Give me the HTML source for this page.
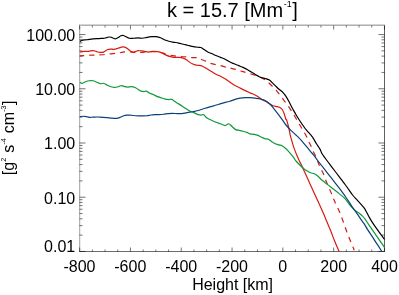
<!DOCTYPE html>
<html><head><meta charset="utf-8"><style>
html,body{margin:0;padding:0;background:#fff;}
svg{display:block}
svg{will-change:transform;}
text{font-family:"Liberation Sans",sans-serif;fill:#000;}
</style></head><body>
<svg width="399" height="295" viewBox="0 0 399 295">
<rect width="399" height="295" fill="#fff"/>
<clipPath id="c"><rect x="79.5" y="25.5" width="305.5" height="226.6"/></clipPath>
<g fill="none" stroke="#989898" stroke-width="1">
<path d="M79.0,24.5 H385.0" stroke="#d4d4d4"/>
<path d="M79.0,25.5 H385.0" stroke="#b0b0b0"/>
<path d="M80.5,25.5 V251.5" stroke="#ececec"/>
<path d="M79.5,24.5 V251.5" stroke="#b2b2b2"/>
<path d="M79.0,251.5 H385.0" stroke="#6c6c6c"/>
<path d="M384.5,25.5 V251.5" stroke="#606060"/>
<path d="M79.65,251.50 v-4.00 M79.65,25.50 v4.00 M92.35,251.50 v-2.00 M92.35,25.50 v2.00 M105.05,251.50 v-2.00 M105.05,25.50 v2.00 M117.75,251.50 v-2.00 M117.75,25.50 v2.00 M130.45,251.50 v-4.00 M130.45,25.50 v4.00 M143.15,251.50 v-2.00 M143.15,25.50 v2.00 M155.85,251.50 v-2.00 M155.85,25.50 v2.00 M168.55,251.50 v-2.00 M168.55,25.50 v2.00 M181.25,251.50 v-4.00 M181.25,25.50 v4.00 M193.95,251.50 v-2.00 M193.95,25.50 v2.00 M206.65,251.50 v-2.00 M206.65,25.50 v2.00 M219.35,251.50 v-2.00 M219.35,25.50 v2.00 M232.05,251.50 v-4.00 M232.05,25.50 v4.00 M244.75,251.50 v-2.00 M244.75,25.50 v2.00 M257.45,251.50 v-2.00 M257.45,25.50 v2.00 M270.15,251.50 v-2.00 M270.15,25.50 v2.00 M282.85,251.50 v-4.00 M282.85,25.50 v4.00 M295.55,251.50 v-2.00 M295.55,25.50 v2.00 M308.25,251.50 v-2.00 M308.25,25.50 v2.00 M320.95,251.50 v-2.00 M320.95,25.50 v2.00 M333.65,251.50 v-4.00 M333.65,25.50 v4.00 M346.35,251.50 v-2.00 M346.35,25.50 v2.00 M359.05,251.50 v-2.00 M359.05,25.50 v2.00 M371.75,251.50 v-2.00 M371.75,25.50 v2.00 M384.45,251.50 v-4.00 M384.45,25.50 v4.00 M79.50,251.45 h6.00 M384.50,251.45 h-6.00 M79.50,235.13 h3.00 M384.50,235.13 h-3.00 M79.50,225.58 h3.00 M384.50,225.58 h-3.00 M79.50,218.80 h3.00 M384.50,218.80 h-3.00 M79.50,213.55 h3.00 M384.50,213.55 h-3.00 M79.50,209.25 h3.00 M384.50,209.25 h-3.00 M79.50,205.62 h3.00 M384.50,205.62 h-3.00 M79.50,202.48 h3.00 M384.50,202.48 h-3.00 M79.50,199.71 h3.00 M384.50,199.71 h-3.00 M79.50,197.23 h6.00 M384.50,197.23 h-6.00 M79.50,180.90 h3.00 M384.50,180.90 h-3.00 M79.50,171.35 h3.00 M384.50,171.35 h-3.00 M79.50,164.58 h3.00 M384.50,164.58 h-3.00 M79.50,159.32 h3.00 M384.50,159.32 h-3.00 M79.50,155.03 h3.00 M384.50,155.03 h-3.00 M79.50,151.40 h3.00 M384.50,151.40 h-3.00 M79.50,148.25 h3.00 M384.50,148.25 h-3.00 M79.50,145.48 h3.00 M384.50,145.48 h-3.00 M79.50,143.00 h6.00 M384.50,143.00 h-6.00 M79.50,126.68 h3.00 M384.50,126.68 h-3.00 M79.50,117.13 h3.00 M384.50,117.13 h-3.00 M79.50,110.35 h3.00 M384.50,110.35 h-3.00 M79.50,105.10 h3.00 M384.50,105.10 h-3.00 M79.50,100.80 h3.00 M384.50,100.80 h-3.00 M79.50,97.17 h3.00 M384.50,97.17 h-3.00 M79.50,94.03 h3.00 M384.50,94.03 h-3.00 M79.50,91.26 h3.00 M384.50,91.26 h-3.00 M79.50,88.78 h6.00 M384.50,88.78 h-6.00 M79.50,72.45 h3.00 M384.50,72.45 h-3.00 M79.50,62.90 h3.00 M384.50,62.90 h-3.00 M79.50,56.13 h3.00 M384.50,56.13 h-3.00 M79.50,50.87 h3.00 M384.50,50.87 h-3.00 M79.50,46.58 h3.00 M384.50,46.58 h-3.00 M79.50,42.95 h3.00 M384.50,42.95 h-3.00 M79.50,39.80 h3.00 M384.50,39.80 h-3.00 M79.50,37.03 h3.00 M384.50,37.03 h-3.00 M79.50,34.55 h6.00 M384.50,34.55 h-6.00" stroke="#000" stroke-width="0.55"/>
</g>
<g clip-path="url(#c)" fill="none" stroke-width="1.2" stroke-linejoin="round">
<path d="M79.80,52.06 C80.51,51.93 82.56,51.43 84.02,51.31 C85.47,51.18 87.02,51.43 88.53,51.31 C90.03,51.18 91.78,50.56 93.04,50.56 C94.29,50.56 94.92,51.01 96.05,51.31 C97.17,51.61 98.55,52.24 99.80,52.36 C101.06,52.49 102.31,52.49 103.56,52.06 C104.82,51.63 106.20,50.31 107.32,49.80 C108.45,49.30 109.20,49.13 110.33,49.05 C111.46,48.98 112.84,49.48 114.09,49.35 C115.34,49.23 116.60,48.68 117.85,48.30 C119.10,47.92 120.48,47.30 121.61,47.10 C122.74,46.90 123.61,46.82 124.62,47.10 C125.62,47.37 126.62,48.05 127.62,48.75 C128.63,49.45 129.75,50.76 130.63,51.31 C131.51,51.86 132.01,52.06 132.89,52.06 C133.76,52.06 135.04,51.56 135.89,51.31 C136.75,51.06 137.15,50.63 138.00,50.56 C138.85,50.48 139.88,50.73 141.01,50.86 C142.14,50.98 143.51,51.11 144.77,51.31 C146.02,51.51 147.15,52.06 148.53,52.06 C149.90,52.06 151.53,51.38 153.04,51.31 C154.54,51.23 156.30,51.43 157.55,51.61 C158.80,51.78 159.55,51.98 160.56,52.36 C161.56,52.74 162.56,53.36 163.56,53.86 C164.57,54.37 165.44,54.92 166.57,55.37 C167.70,55.82 169.08,56.25 170.33,56.57 C171.58,56.90 172.71,57.20 174.09,57.32 C175.47,57.45 177.10,57.20 178.60,57.32 C180.11,57.45 181.86,57.70 183.11,58.08 C184.37,58.45 185.12,58.95 186.12,59.58 C187.12,60.21 188.13,61.13 189.13,61.83 C190.13,62.54 191.13,63.29 192.14,63.79 C193.14,64.29 194.17,64.59 195.14,64.84 C196.12,65.09 197.02,65.17 198.00,65.29 C198.98,65.42 199.88,65.24 201.01,65.59 C202.14,65.94 203.51,66.70 204.77,67.40 C206.02,68.10 207.27,69.03 208.53,69.80 C209.78,70.58 211.03,71.32 212.29,72.06 C213.54,72.80 214.67,73.56 216.05,74.26 C217.42,74.95 219.05,75.46 220.56,76.21 C222.06,76.96 223.69,77.91 225.07,78.77 C226.45,79.62 227.32,80.28 228.83,81.32 C230.33,82.36 232.20,83.87 234.10,85.00 C236.00,86.13 238.33,87.17 240.20,88.10 C242.07,89.03 243.62,89.80 245.30,90.60 C246.98,91.40 248.62,92.13 250.30,92.90 C251.98,93.67 254.03,94.52 255.40,95.20 C256.77,95.88 257.48,96.33 258.50,97.00 C259.52,97.67 260.40,98.52 261.50,99.20 C262.60,99.88 263.65,100.27 265.10,101.10 C266.55,101.93 268.85,103.43 270.20,104.20 C271.55,104.97 272.02,105.28 273.20,105.70 C274.38,106.12 276.12,106.37 277.30,106.70 C278.48,107.03 279.45,107.18 280.30,107.70 C281.15,108.22 281.72,108.70 282.40,109.80 C283.08,110.90 283.82,112.70 284.40,114.30 C284.98,115.90 285.54,118.49 285.90,119.40 C286.26,120.31 286.21,118.82 286.57,119.76 C286.93,120.70 287.62,123.27 288.08,125.02 C288.53,126.78 288.90,128.53 289.28,130.29 C289.65,132.04 289.90,133.79 290.33,135.55 C290.76,137.30 291.33,139.06 291.83,140.81 C292.34,142.57 292.76,144.32 293.34,146.08 C293.91,147.83 294.67,149.71 295.29,151.34 C295.92,152.97 296.50,154.40 297.10,155.85 C297.70,157.30 298.15,158.49 298.90,160.06 C299.65,161.63 300.66,163.27 301.61,165.26 C302.56,167.26 303.49,169.52 304.62,172.03 C305.74,174.54 307.12,177.54 308.38,180.30 C309.63,183.06 310.88,185.81 312.14,188.57 C313.39,191.33 314.92,194.71 315.89,196.84 C316.87,198.97 317.45,200.16 318.00,201.35 C318.55,202.55 318.33,202.06 319.20,204.00 C320.08,205.94 321.96,210.02 323.26,213.02 C324.57,216.03 325.77,219.04 327.02,222.05 C328.28,225.05 329.53,227.93 330.78,231.07 C332.04,234.20 333.41,238.01 334.54,240.84 C335.67,243.67 336.77,246.27 337.55,248.06 C338.33,249.85 338.92,251.01 339.20,251.60" stroke="#d41b12"/>
<path d="M79.80,55.82 C81.01,55.74 84.57,55.49 87.02,55.37 C89.48,55.24 92.04,55.17 94.54,55.07 C97.05,54.97 99.55,54.97 102.06,54.77 C104.57,54.57 107.07,54.12 109.58,53.86 C112.09,53.61 114.84,53.56 117.10,53.26 C119.35,52.96 121.61,52.31 123.11,52.06 C124.62,51.81 124.62,51.76 126.12,51.76 C127.62,51.76 130.51,51.88 132.14,52.06 C133.76,52.24 134.92,52.69 135.89,52.81 C136.87,52.94 136.65,52.94 138.00,52.81 C139.35,52.69 142.01,52.24 144.02,52.06 C146.02,51.88 148.03,51.83 150.03,51.76 C152.04,51.68 154.04,51.43 156.05,51.61 C158.05,51.78 160.06,52.29 162.06,52.81 C164.07,53.34 166.07,54.27 168.08,54.77 C170.08,55.27 172.09,55.52 174.09,55.82 C176.10,56.12 178.10,56.40 180.11,56.57 C182.11,56.75 184.12,56.70 186.12,56.87 C188.13,57.05 190.16,57.47 192.14,57.62 C194.12,57.77 196.52,57.50 198.00,57.77 C199.48,58.05 199.75,58.73 201.01,59.28 C202.26,59.83 203.89,60.41 205.52,61.08 C207.15,61.76 209.15,62.76 210.78,63.34 C212.41,63.91 213.66,64.17 215.29,64.54 C216.92,64.92 218.80,65.17 220.56,65.59 C222.31,66.02 224.19,66.70 225.82,67.10 C227.45,67.50 228.70,67.62 230.33,68.00 C231.96,68.38 233.84,68.85 235.59,69.35 C237.35,69.85 239.35,70.56 240.86,71.01 C242.36,71.46 241.76,71.19 244.62,72.06 C247.47,72.93 254.77,75.02 258.00,76.21 C261.23,77.40 262.26,78.17 264.02,79.22 C265.77,80.27 267.15,81.35 268.53,82.53 C269.90,83.70 271.03,85.03 272.29,86.29 C273.54,87.54 274.92,88.79 276.05,90.05 C277.17,91.30 278.08,92.56 279.05,93.80 C280.03,95.05 280.93,96.20 281.90,97.50 C282.87,98.80 283.88,100.23 284.90,101.60 C285.92,102.97 286.98,104.25 288.00,105.70 C289.02,107.15 290.07,108.87 291.00,110.30 C291.93,111.73 292.71,112.85 293.60,114.30 C294.49,115.75 295.39,117.35 296.35,119.01 C297.30,120.67 298.48,122.77 299.35,124.27 C300.23,125.77 300.86,126.78 301.61,128.03 C302.36,129.28 303.06,130.41 303.86,131.79 C304.67,133.17 305.67,134.80 306.42,136.30 C307.17,137.80 307.67,139.31 308.38,140.81 C309.08,142.32 309.88,143.69 310.63,145.32 C311.38,146.95 312.14,148.96 312.89,150.59 C313.64,152.22 314.39,153.52 315.14,155.10 C315.89,156.68 316.92,158.87 317.40,160.06 C317.87,161.25 317.40,160.76 318.00,162.26 C318.60,163.75 320.13,167.14 321.01,169.02 C321.88,170.90 322.56,171.90 323.26,173.53 C323.96,175.16 324.59,177.17 325.22,178.80 C325.84,180.43 326.35,181.68 327.02,183.31 C327.70,184.94 328.58,186.94 329.28,188.57 C329.98,190.20 330.61,191.58 331.23,193.08 C331.86,194.59 332.41,196.09 333.04,197.59 C333.66,199.10 334.54,201.04 334.99,202.11 C335.44,203.17 335.07,202.56 335.74,204.00 C336.42,205.44 337.87,208.01 339.05,210.77 C340.23,213.52 341.61,217.28 342.81,220.54 C344.02,223.80 345.07,227.06 346.27,230.32 C347.47,233.57 348.85,237.13 350.03,240.09 C351.21,243.05 352.64,246.38 353.34,248.06 C354.03,249.75 354.06,249.84 354.20,250.20" stroke="#d41b12" stroke-dasharray="5.4 4.9" stroke-dashoffset="1"/>
<path d="M79.80,82.23 C80.21,82.40 81.26,83.35 82.21,83.28 C83.16,83.20 84.34,82.20 85.52,81.77 C86.70,81.35 88.03,80.90 89.28,80.72 C90.53,80.55 91.78,80.47 93.04,80.72 C94.29,80.97 95.54,81.72 96.80,82.23 C98.05,82.73 99.43,83.55 100.56,83.73 C101.68,83.90 102.44,83.03 103.56,83.28 C104.69,83.53 106.07,84.66 107.32,85.23 C108.58,85.81 109.83,86.39 111.08,86.74 C112.34,87.09 113.59,87.36 114.84,87.34 C116.10,87.31 117.47,86.89 118.60,86.59 C119.73,86.29 120.61,85.53 121.61,85.53 C122.61,85.53 123.61,86.34 124.62,86.59 C125.62,86.84 126.50,87.04 127.62,87.04 C128.75,87.04 130.13,86.51 131.38,86.59 C132.64,86.66 134.04,87.04 135.14,87.49 C136.25,87.94 137.02,88.69 138.00,89.29 C138.98,89.89 140.01,90.72 141.01,91.10 C142.01,91.47 143.14,91.55 144.02,91.55 C144.89,91.55 145.39,90.85 146.27,91.10 C147.15,91.35 148.15,92.48 149.28,93.05 C150.41,93.63 151.78,94.01 153.04,94.56 C154.29,95.11 155.54,95.86 156.80,96.36 C158.05,96.86 159.30,97.16 160.56,97.56 C161.81,97.96 163.06,98.44 164.32,98.77 C165.57,99.09 166.82,99.42 168.08,99.52 C169.33,99.62 170.71,99.02 171.83,99.37 C172.96,99.72 173.71,100.87 174.84,101.62 C175.97,102.38 177.35,103.10 178.60,103.88 C179.85,104.66 181.11,105.46 182.36,106.29 C183.61,107.11 184.87,108.04 186.12,108.84 C187.37,109.64 188.63,110.47 189.88,111.10 C191.13,111.72 192.29,112.03 193.64,112.60 C194.99,113.18 196.77,114.15 198.00,114.56 C199.23,114.96 200.06,115.01 201.01,115.04 C201.96,115.07 202.71,114.24 203.71,114.74 C204.72,115.24 205.72,117.12 207.02,118.05 C208.33,118.97 210.03,119.60 211.53,120.30 C213.04,121.00 214.54,121.68 216.05,122.26 C217.55,122.83 219.05,123.21 220.56,123.76 C222.06,124.31 223.69,125.56 225.07,125.56 C226.45,125.56 227.70,123.63 228.83,123.76 C229.95,123.88 230.71,125.34 231.83,126.32 C232.96,127.29 234.34,128.95 235.59,129.62 C236.85,130.30 238.10,130.10 239.35,130.38 C240.61,130.65 241.86,130.95 243.11,131.28 C244.37,131.60 245.74,131.90 246.87,132.33 C248.00,132.76 248.63,133.51 249.88,133.83 C251.13,134.16 253.04,134.04 254.39,134.29 C255.74,134.54 256.90,134.88 258.00,135.34 C259.10,135.80 259.88,136.52 261.01,137.05 C262.14,137.59 263.51,138.18 264.77,138.56 C266.02,138.93 267.40,138.81 268.53,139.31 C269.65,139.81 270.41,140.81 271.53,141.56 C272.66,142.32 274.04,143.27 275.29,143.82 C276.55,144.37 277.92,144.55 279.05,144.87 C280.18,145.20 281.06,145.25 282.06,145.77 C283.06,146.30 284.07,147.18 285.07,148.03 C286.07,148.88 287.07,149.83 288.08,150.89 C289.08,151.94 290.08,153.14 291.08,154.35 C292.09,155.55 293.39,157.15 294.09,158.11 C294.79,159.06 294.67,159.24 295.29,160.06 C295.92,160.88 296.92,162.02 297.85,163.01 C298.78,164.00 299.85,165.06 300.86,166.02 C301.86,166.97 302.86,167.92 303.86,168.72 C304.87,169.52 305.74,170.15 306.87,170.83 C308.00,171.50 309.38,172.28 310.63,172.78 C311.88,173.28 313.16,173.26 314.39,173.83 C315.62,174.41 316.77,175.21 318.00,176.24 C319.23,177.27 320.30,178.69 321.80,180.00 C323.30,181.31 325.13,182.63 327.00,184.10 C328.87,185.57 330.98,187.22 333.00,188.80 C335.02,190.38 337.10,191.97 339.10,193.60 C341.10,195.23 343.33,196.83 345.00,198.60 C346.67,200.37 347.75,202.52 349.10,204.20 C350.45,205.88 351.92,207.52 353.10,208.70 C354.28,209.88 355.18,210.53 356.20,211.30 C357.22,212.07 358.18,212.53 359.20,213.30 C360.22,214.07 361.28,214.88 362.30,215.90 C363.32,216.92 364.20,217.92 365.30,219.40 C366.40,220.88 365.70,220.13 368.90,224.80 C372.10,229.47 381.90,243.63 384.50,247.40" stroke="#10983a"/>
<path d="M79.80,116.56 C80.38,116.51 82.19,116.26 83.26,116.26 C84.34,116.26 85.27,116.38 86.27,116.56 C87.27,116.73 88.15,117.21 89.28,117.31 C90.41,117.41 91.66,117.21 93.04,117.16 C94.42,117.11 96.05,116.98 97.55,117.01 C99.05,117.03 100.56,117.21 102.06,117.31 C103.56,117.41 105.07,117.48 106.57,117.61 C108.08,117.73 109.70,117.93 111.08,118.06 C112.46,118.19 113.71,118.36 114.84,118.36 C115.97,118.36 116.85,118.29 117.85,118.06 C118.85,117.83 119.85,117.38 120.86,117.01 C121.86,116.63 122.86,116.11 123.86,115.80 C124.87,115.50 125.87,115.33 126.87,115.20 C127.87,115.08 128.75,115.00 129.88,115.05 C131.01,115.10 132.29,115.38 133.64,115.50 C134.99,115.63 136.52,115.74 138.00,115.80 C139.48,115.87 141.01,115.92 142.51,115.91 C144.02,115.90 145.64,115.91 147.02,115.76 C148.40,115.61 149.53,115.21 150.78,115.01 C152.04,114.81 153.16,114.63 154.54,114.56 C155.92,114.48 157.55,114.61 159.05,114.56 C160.56,114.51 162.06,114.41 163.56,114.26 C165.07,114.11 166.57,113.80 168.08,113.65 C169.58,113.50 171.08,113.35 172.59,113.35 C174.09,113.35 175.59,113.60 177.10,113.65 C178.60,113.70 180.11,113.78 181.61,113.65 C183.11,113.53 184.62,113.18 186.12,112.90 C187.62,112.63 189.25,112.25 190.63,112.00 C192.01,111.75 193.16,111.65 194.39,111.40 C195.62,111.15 196.23,111.01 198.00,110.50 C199.77,109.98 202.67,109.00 205.00,108.30 C207.33,107.60 209.67,106.98 212.00,106.30 C214.33,105.62 216.67,104.88 219.00,104.20 C221.33,103.52 224.17,102.68 226.00,102.20 C227.83,101.72 228.48,101.77 230.00,101.30 C231.52,100.83 233.40,99.92 235.10,99.40 C236.80,98.88 238.50,98.48 240.20,98.20 C241.90,97.92 243.62,97.78 245.30,97.70 C246.98,97.62 248.62,97.62 250.30,97.70 C251.98,97.78 253.73,97.98 255.40,98.20 C257.07,98.42 258.68,98.60 260.30,99.00 C261.92,99.40 263.45,99.73 265.10,100.60 C266.75,101.47 268.68,102.77 270.20,104.20 C271.72,105.63 272.85,107.52 274.20,109.20 C275.55,110.88 276.93,112.52 278.30,114.30 C279.67,116.08 281.12,118.12 282.40,119.90 C283.68,121.68 284.55,123.22 286.00,125.00 C287.45,126.78 289.40,128.90 291.10,130.60 C292.80,132.30 294.50,133.58 296.20,135.20 C297.90,136.82 299.60,138.43 301.30,140.30 C303.00,142.17 304.88,144.55 306.40,146.40 C307.92,148.25 309.22,150.00 310.40,151.40 C311.58,152.80 312.35,153.37 313.50,154.80 C314.65,156.23 315.80,158.02 317.30,160.00 C318.80,161.98 320.13,163.67 322.50,166.70 C324.87,169.73 328.48,174.35 331.50,178.20 C334.52,182.05 338.35,186.83 340.60,189.80 C342.85,192.77 343.58,193.95 345.00,196.00 C346.42,198.05 347.75,200.07 349.10,202.10 C350.45,204.13 351.75,206.25 353.10,208.20 C354.45,210.15 355.83,211.85 357.20,213.80 C358.57,215.75 360.03,218.07 361.30,219.90 C362.57,221.73 363.75,223.19 364.80,224.80 C365.85,226.41 366.40,227.64 367.62,229.56 C368.85,231.49 370.76,234.20 372.14,236.33 C373.51,238.46 374.92,240.84 375.89,242.35 C376.87,243.85 377.00,243.81 378.00,245.35 C379.00,246.90 381.25,250.56 381.90,251.60" stroke="#0c4078"/>
<path d="M79.80,41.83 C80.13,41.58 80.56,40.68 81.76,40.33 C82.96,39.98 85.14,39.98 87.02,39.73 C88.90,39.48 91.03,39.03 93.04,38.83 C95.04,38.63 97.17,38.63 99.05,38.53 C100.93,38.43 102.94,38.43 104.32,38.23 C105.69,38.03 106.32,37.52 107.32,37.32 C108.33,37.12 109.33,36.87 110.33,37.02 C111.33,37.17 112.46,37.92 113.34,38.23 C114.22,38.53 114.84,38.90 115.59,38.83 C116.35,38.75 116.97,38.28 117.85,37.77 C118.73,37.27 119.98,36.20 120.86,35.82 C121.73,35.44 122.24,35.37 123.11,35.52 C123.99,35.67 125.12,36.27 126.12,36.72 C127.12,37.17 127.87,37.97 129.13,38.23 C130.38,38.48 132.16,38.28 133.64,38.23 C135.12,38.18 136.52,37.92 138.00,37.92 C139.48,37.92 141.01,38.33 142.51,38.23 C144.02,38.13 145.52,37.57 147.02,37.32 C148.53,37.07 150.03,36.82 151.53,36.72 C153.04,36.62 154.54,36.55 156.05,36.72 C157.55,36.90 159.05,37.22 160.56,37.77 C162.06,38.33 163.56,39.40 165.07,40.03 C166.57,40.66 168.08,41.16 169.58,41.53 C171.08,41.91 172.59,42.04 174.09,42.29 C175.59,42.54 177.10,42.71 178.60,43.04 C180.11,43.36 181.61,43.86 183.11,44.24 C184.62,44.62 186.12,44.94 187.62,45.29 C189.13,45.64 190.41,46.02 192.14,46.35 C193.86,46.67 196.52,47.05 198.00,47.25 C199.48,47.45 200.01,47.17 201.01,47.55 C202.01,47.92 202.89,48.75 204.02,49.50 C205.14,50.26 206.52,51.38 207.77,52.06 C209.03,52.74 210.16,52.99 211.53,53.56 C212.91,54.14 214.54,54.89 216.05,55.52 C217.55,56.15 219.05,56.70 220.56,57.32 C222.06,57.95 223.56,58.53 225.07,59.28 C226.57,60.03 228.08,61.08 229.58,61.83 C231.08,62.59 232.59,63.16 234.09,63.79 C235.59,64.42 237.10,64.99 238.60,65.59 C240.11,66.20 241.61,66.72 243.11,67.40 C244.62,68.08 246.25,68.88 247.62,69.65 C249.00,70.43 249.27,70.79 251.38,72.06 C253.50,73.33 257.98,76.23 260.30,77.30 C262.62,78.37 263.78,78.03 265.30,78.50 C266.82,78.97 268.20,79.37 269.40,80.10 C270.60,80.83 271.48,81.93 272.50,82.90 C273.52,83.87 274.41,84.83 275.50,85.90 C276.59,86.97 277.83,88.23 279.05,89.29 C280.27,90.36 281.68,91.17 282.81,92.30 C283.94,93.43 284.82,94.56 285.82,96.06 C286.82,97.56 287.82,99.44 288.83,101.32 C289.83,103.20 290.83,105.46 291.83,107.34 C292.84,109.22 294.02,111.15 294.84,112.60 C295.67,114.06 295.92,114.62 296.80,116.06 C297.67,117.50 298.77,119.27 300.11,121.26 C301.44,123.25 303.58,126.36 304.80,128.00 C306.02,129.64 306.12,129.57 307.40,131.10 C308.68,132.63 310.98,135.08 312.50,137.20 C314.02,139.32 315.23,141.77 316.50,143.80 C317.77,145.83 319.03,147.53 320.10,149.40 C321.17,151.27 320.57,151.57 322.90,155.00 C325.23,158.43 330.33,165.00 334.10,170.00 C337.87,175.00 342.42,180.83 345.50,185.00 C348.58,189.17 350.65,192.48 352.60,195.00 C354.55,197.52 355.75,198.48 357.20,200.10 C358.65,201.72 360.12,203.35 361.30,204.70 C362.48,206.05 363.37,206.85 364.30,208.20 C365.23,209.55 365.97,211.10 366.90,212.80 C367.83,214.50 368.72,216.40 369.90,218.40 C371.08,220.40 371.57,221.28 374.00,224.80 C376.43,228.32 382.75,237.05 384.50,239.50" stroke="#000"/>
</g>
<text x="167" y="16.6" font-size="20">k = 15.7 [Mm<tspan font-size="9" dy="-9.7" dx="0.6">-1</tspan><tspan dy="9.7" dx="0.5">]</tspan></text>
<g font-size="16" text-anchor="end">
<text x="75.2" y="40.7">100.00</text>
<text x="75.2" y="94.8">10.00</text>
<text x="75.2" y="149.1">1.00</text>
<text x="75.2" y="203.5">0.10</text>
<text x="75.2" y="251.8">0.01</text>
</g>
<g font-size="16" text-anchor="middle">
<text x="79.5" y="272.1">-800</text>
<text x="130.3" y="272.1">-600</text>
<text x="181.2" y="272.1">-400</text>
<text x="232.0" y="272.1">-200</text>
<text x="282.8" y="272.1">0</text>
<text x="333.7" y="272.1">200</text>
<text x="384.5" y="272.1">400</text>
<text x="232.6" y="289.7">Height [km]</text>
</g>
<text transform="translate(14.2,175.2) rotate(-90)" font-size="16">[g<tspan font-size="7.2" dy="-8" dx="0.2">2</tspan><tspan dy="8" dx="0.4"> s</tspan><tspan font-size="7.2" dy="-8" dx="0.2">-4</tspan><tspan dy="8" dx="0.4"> cm</tspan><tspan font-size="7.2" dy="-8" dx="0.2">-3</tspan><tspan dy="8" dx="0.3">]</tspan></text>
</svg>
</body></html>
